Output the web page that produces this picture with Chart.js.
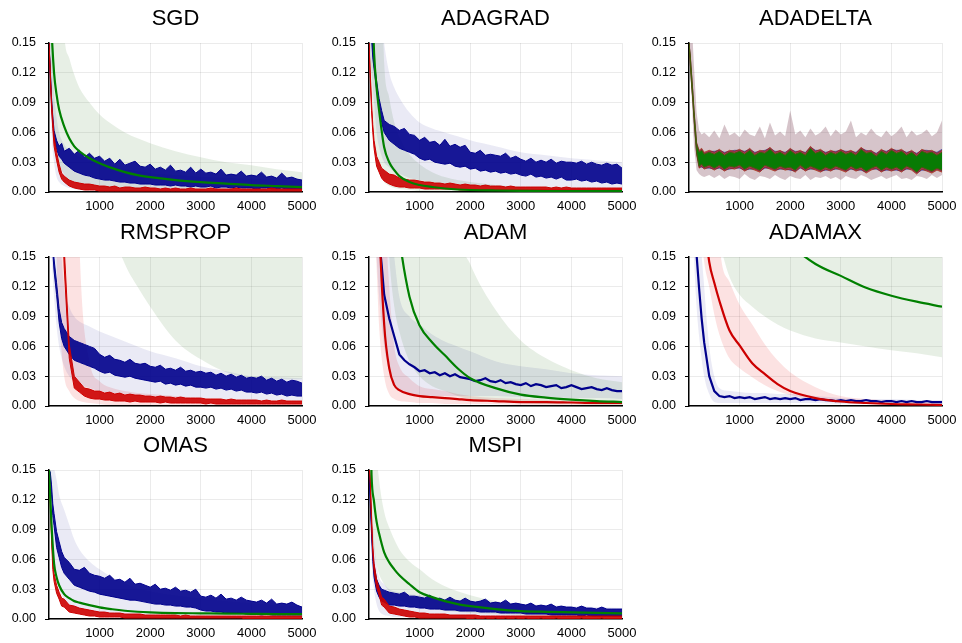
<!DOCTYPE html>
<html>
<head>
<meta charset="utf-8">
<script src="https://cdn.jsdelivr.net/npm/chart.js@4"></script>
<style>
  html, body { margin: 0; padding: 0; background: #fff; }
  #wrap { position: relative; width: 962px; height: 643px; overflow: hidden; }
  .panel { position: absolute; width: 320px; height: 213px; }
</style>
</head>
<body>
<div id="wrap"></div>
<script>
// ---- data (values in thousandths, converted to loss values when building datasets) ----
const TITLES = ['SGD', 'ADAGRAD', 'ADADELTA', 'RMSPROP', 'ADAM', 'ADAMAX', 'OMAS', 'MSPI'];
const X_TICKS = [1000, 2000, 3000, 4000, 5000];
const X_LABELS = ['1000', '2000', '3000', '4000', '5000'];
const Y_TICKS = [0, 0.03, 0.06, 0.09, 0.12, 0.15];
const Y_LABELS = ['0.00', '0.03', '0.06', '0.09', '0.12', '0.15'];

// iteration grid for noisy traces (min / max envelope of the noise)
const XN = [0,25,50,75,100,150,200,250,300,400,
  500,600,700,800,900,
  1000,1100,1200,1300,1400,1500,1600,1700,1800,1900,
  2000,2100,2200,2300,2400,2500,2600,2700,2800,2900,
  3000,3100,3200,3300,3400,3500,3600,3700,3800,3900,
  4000,4100,4200,4300,4400,4500,4600,4700,4800,4900,
  5000];
// iteration grid for smooth curves and shaded bands
const XS = [0,50,100,150,200,300,400,500,600,800,1000,1250,1500,1750,2000,2500,3000,3500,4000,4500,5000];

// SGD
const sgdBlueHi = [150,124,95,76,62,52,46,49,41,44, 38,42,35,39,34, 36,31,34,28,33,27,29,31,26,25, 28,23,25,22,27,21,22,20,25,19, 23,19,20,18,23,17,18,17,21,16, 17,16,20,15,16,14,19,14,15,13, 12];
const sgdBlueLo = [150,118,88,68,54,43,36,33,29,25, 21,19,17,16,14, 13,12,12,11,10,10,9,9,8,8, 8,7,7,7,6,7,6,6,5,6, 5,5,6,4,5,5,4,5,4,4, 4,3,4,4,3,3,4,3,3,3, 3];
const sgdRedHi = [150,122,92,74,56,40,28,19,16,12, 10,9,8,8,7, 6,6,5,6,4,5,5,4,4,5, 4,4,3,4,3,4,3,3,4,3, 3,3,4,3,3,3,3,4,3,3, 3,3,3,3,4,3,3,3,3,3, 3];
const sgdRedLo = [150,116,84,64,46,32,20,13,10,6, 4,3,2,2,2, 1,1,1,1,1,1,1,1,1,1, 1,1,1,1,1,1,1,1,1,1, 1,1,1,1,1,1,1,1,1,1, 1,1,1,1,1,1,1,1,1,1, 1];
const sgdGreen = [250,165,120,98,83,66,54,46,41,34,29,24,20,17,15,12,10,8.5,7,6,5];
const sgdGreenLo = [150,100,60,40,28,18,12,9,7,5,4,3,3,2,2,2,1,1,1,1,1];
const sgdGreenHi = [300,300,300,300,300,160,135,118,105,90,78,68,60,54,49,41,35,30,27,23,20];
const sgdBlueBandLo = [150,60,30,15,10,6,4,3,2,2,1,1,1,1,1,1,1,1,1,1,1];
const sgdBlueBandHi = [150,150,100,75,60,48,42,38,35,31,28,25,23,21,19,17,15,14,13,12,11];

// ADAGRAD
const adagradBlueHi = [220,195,165,145,132,112,94,82,72,68, 66,62,64,58,57, 52,55,50,51,47,53,46,48,45,47, 40,39,42,37,38,37,36,39,34,36, 33,31,34,30,32,30,33,29,31,30, 30,29,31,28,30,28,27,29,27,28, 24];
const adagradBlueLo = [220,185,155,135,124,104,84,70,60,52, 48,44,42,40,38, 34,32,33,30,29,28,29,26,25,26, 23,24,21,22,20,21,19,20,18,19, 17,16,18,15,16,14,15,13,15,12, 12,13,11,12,10,11,9,10,8,9, 8];
const adagradRedHi = [150,120,90,68,52,36,30,24,22,18, 17,14,13,12,12, 11,10,10,9,9,8,9,8,7,8, 7,7,6,7,6,6,6,5,6,5, 5,5,5,5,5,5,4,5,4,5, 4,4,4,4,4,4,4,4,4,4, 4];
const adagradRedLo = [150,114,82,60,44,26,20,14,11,8, 6,5,5,4,4, 4,3,3,3,3,3,3,3,2,2, 2,2,2,2,2,2,2,2,2,2, 2,2,2,2,2,2,2,2,2,2, 2,2,2,2,2,2,2,2,2,2, 2];
const adagradGreen = [300,210,140,105,82,45,30,22,16,10,7,5,3.5,2.5,2,1.5,1.2,1,1,1,1];
const adagradGreenLo = [150,100,60,35,20,10,6,4,3,2,1,1,1,1,1,1,1,1,1,1,1];
const adagradGreenHi = [300,300,300,300,300,130,95,70,55,38,28,20,15,12,10,7,5,4,4,3,3];
const adagradBlueBandLo = [150,120,90,60,45,30,25,20,18,14,12,10,8,7,6,5,4,4,3,3,3];
const adagradBlueBandHi = [300,300,300,300,200,150,120,105,95,80,70,64,60,56,52,46,40,37,34,32,30];

// ADADELTA
const adadeltaGreenHi = [150,136,118,100,80,48,40,42,38,40, 38,41,37,40,39, 41,38,42,37,40,39,43,38,40,37, 42,38,40,37,44,39,41,37,40,38, 41,38,40,37,43,39,40,36,41,38, 42,39,41,37,40,36,41,39,40,37, 40];
const adadeltaGreenLo = [150,130,110,94,74,40,26,28,25,27, 24,27,23,26,25, 27,23,26,24,22,27,25,23,26,24, 25,22,27,23,26,24,22,25,23,26, 24,22,26,23,25,21,24,26,22,25, 23,25,22,26,24,20,25,23,21,24, 22];
const adadeltaRedHi = [150,138,120,102,82,50,42,44,40,42, 40,43,39,42,41, 43,40,44,39,42,41,45,40,42,39, 44,40,42,39,46,41,43,39,42,40, 43,40,42,39,45,41,42,38,43,40, 44,41,43,39,42,38,43,41,42,39, 42];
const adadeltaRedLo = [150,128,108,92,72,38,24,26,23,25, 22,25,21,24,23, 25,21,24,22,20,25,23,21,24,22, 23,20,25,21,24,22,20,23,21,24, 22,20,24,21,23,19,22,24,20,23, 21,23,20,24,22,18,23,21,19,22, 20];
const adadeltaBlueHi = [150,137,119,101,81,49,41,43,39,41, 41,42,40,41,42, 42,41,43,40,41,42,44,41,41,40, 43,41,41,40,45,42,42,40,41,41, 42,41,41,40,44,42,41,39,42,41, 43,42,42,40,41,39,42,42,41,40, 43];
const adadeltaBlueLo = [150,129,109,93,73,39,25,25,24,24, 23,24,22,23,24, 24,22,23,23,21,24,24,22,23,23, 22,21,24,22,23,23,21,22,22,23, 23,21,23,22,22,20,23,23,21,22, 22,22,21,23,23,19,22,22,20,23, 21];
const adadeltaBandLo = [150,130,100,70,45,22,18,16,15,17, 14,17,13,16,15, 13,18,14,12,16,15,13,17,14,12, 16,14,13,17,12,15,14,16,13,15, 12,16,14,13,17,15,12,14,16,13, 15,17,13,14,12,16,15,13,17,14, 17];
const adadeltaBandHi = [200,200,180,150,125,80,62,58,60,55, 62,54,68,57,60, 55,63,58,56,66,54,70,57,61,56, 82,58,62,55,64,57,60,66,56,63, 58,61,72,55,60,57,64,58,55,62, 56,60,66,55,62,57,59,63,56,60, 72];

// RMSPROP
const rmspropBlueHi = [300,245,195,165,148,124,98,84,78,70, 66,64,62,60,58, 52,49,51,47,46,44,47,43,42,43, 40,39,41,37,38,36,39,35,36,34, 35,33,34,31,33,30,32,29,31,28, 29,28,30,26,28,25,27,24,26,25, 23];
const rmspropBlueLo = [300,235,185,155,136,112,84,68,60,52, 46,44,42,40,38, 35,33,34,31,30,29,30,28,27,26, 25,24,25,22,23,21,22,20,21,19, 19,18,19,17,18,16,17,15,16,14, 14,13,14,12,13,11,12,10,11,10, 10];
const rmspropRedHi = [400,400,400,400,400,390,310,230,160,62, 30,24,18,17,15, 15,13,14,12,13,11,12,11,11,10, 10,9,10,9,9,8,9,8,8,8, 8,7,7,7,7,6,7,6,6,6, 6,6,5,6,5,5,6,5,5,5, 5];
const rmspropRedLo = [400,400,400,400,400,370,290,210,140,48, 18,14,10,8,7, 7,6,6,5,5,5,4,5,4,4, 4,4,3,4,3,3,3,3,3,3, 3,2,3,2,2,2,2,2,2,2, 2,2,2,2,2,2,2,2,2,2, 2];
const rmspropRedBandLo = [400,400,300,150,90,30,15,8,5,3,2,1,1,1,1,1,1,1,1,1,1];
const rmspropRedBandHi = [400,400,400,400,400,400,400,400,165,45,25,18,15,13,12,10,8,7,6,6,5];
const rmspropBlueBandLo = [200,150,110,80,60,40,30,25,22,18,15,13,12,11,10,9,8,7,6,6,5];
const rmspropBlueBandHi = [400,400,400,300,200,120,100,90,85,80,75,70,65,60,55,48,40,35,30,29,28];
const rmspropGreenBandLo = [400,400,400,400,400,400,400,400,400,400,260,180,143,120,100,66,47,34,28,27,27];
const rmspropGreenBandHi = [400,400,400,400,400,400,400,400,400,400,400,400,400,400,400,400,400,400,400,400,400];

// ADAM
const adamRed = [600,500,400,300,190,82,38,21,16,12,10,9,8,7,6,5,4,4,3.5,3,3];
const adamRedBandLo = [300,260,200,140,80,30,12,7,5,4,3,3,2,2,2,2,1,1,1,1,1];
const adamRedBandHi = [600,600,600,600,400,220,120,60,40,28,20,17,15,12,10,8,7,6,5,5,4];
const adamBlue = [600,500,400,320,270,210,168,142,112,88, 70,52,46,42,39, 35,36,33,34,31,33,30,32,29,28, 27,25,26,28,25,24,26,23,24,22, 21,23,20,22,21,19,20,21,18,19, 21,19,17,18,19,17,16,18,16,15, 15];
const adamBlueBandLo = [300,250,200,150,110,60,35,22,17,13,11,10,10,10,10,10,9,9,8,8,7];
const adamBlueBandHi = [600,600,600,600,500,300,200,150,110,90,82,72,65,60,55,45,40,37,33,31,30];
const adamGreen = [900,850,800,700,600,420,300,220,170,110,81,64,51,38,28,18,11.5,8.5,6.5,5,4];
const adamGreenBandLo = [900,850,800,700,500,250,150,100,75,45,30,20,15,10,7,4,3,2,2,1,1];
const adamGreenBandHi = [900,900,900,900,900,900,900,900,900,900,900,900,900,220,143,97,66,48,36,28,24];

// ADAMAX
const adamaxBlue = [400,350,300,250,200,152,118,88,64,30, 15,10,9,10,8, 9,8,9,7,8,9,7,8,7,8, 7,8,6,7,7,6,7,6,6,5, 6,5,6,5,5,6,5,5,4,5, 5,4,5,4,5,4,4,5,4,4, 4];
const adamaxBlueBandLo = [300,250,150,100,70,30,12,4,3,3,3,3,3,3,3,3,2,2,2,2,2];
const adamaxBlueBandHi = [400,400,400,300,200,120,60,30,18,15,14,13,13,12,12,10,8,7,7,6,6];
const adamaxRed = [400,380,350,300,250,190,145,124,106,76,61,43,32,22,15,8,4.5,3,2,1.5,1];
const adamaxRedBandLo = [400,350,300,250,200,145,120,92,72,48,38,29,21,15,11,6,3,2,1,1,0];
const adamaxRedBandHi = [400,400,400,400,400,400,400,300,165,125,102,82,62,46,34,19,10,7,5,4,3];
const adamaxGreen = [400,390,380,370,360,340,320,300,285,260,240,220,200,180,163,143,131,119,111,105,100];
const adamaxGreenBandLo = [400,380,350,320,290,250,215,185,165,130,112,100,90,82,76,68,64,60,56,53,49];
const adamaxGreenBandHi = [400,400,400,400,400,400,400,400,400,400,400,400,400,400,400,400,400,400,400,400,400];

// OMAS
const omasBlueHi = [150,148,135,116,106,88,78,68,62,57, 50,49,52,46,44, 43,41,44,39,40,37,41,35,36,34, 32,35,30,31,29,32,28,29,27,30, 23,22,24,21,25,20,21,19,22,19, 18,17,19,16,20,15,16,15,17,14, 12];
const omasBlueLo = [150,142,125,104,94,72,62,52,46,40, 34,32,30,28,27, 25,24,23,22,21,20,19,19,18,17, 16,15,15,14,14,13,13,12,12,11, 9,8,8,7,7,6,6,6,6,5, 5,5,4,5,4,4,4,4,4,4, 4];
const omasRedHi = [150,122,88,58,46,34,27,21,20,14, 13,11,10,9,8, 7,7,6,6,6,5,5,5,5,4, 4,4,4,4,4,4,3,4,3,3, 3,3,3,3,3,3,3,3,3,3, 3,3,3,3,3,3,3,3,3,3, 3];
const omasRedLo = [150,116,80,50,38,26,20,13,12,7, 6,5,4,3,3, 2,2,2,2,2,1,1,1,1,1, 1,1,1,1,1,1,1,1,1,1, 1,1,1,1,1,1,1,1,1,0, 0,0,0,0,0,0,0,0,0,0, 0];
const omasGreen = [150,95,56,42,34,25,21,18,16.5,14,11.7,9.8,8.3,7.3,6.7,6,5.7,5.4,5.2,5,5];
const omasBlueBandLo = [150,100,60,40,30,20,15,12,10,8,6,5,5,4,4,4,3,3,3,3,3];
const omasBlueBandHi = [150,150,150,140,125,110,95,80,70,58,50,42,36,31,28,24,21,18,16,14,13];

// MSPI
const mspiBlueHi = [150,124,94,66,54,40,34,30,29,27, 26,25,27,23,23, 22,21,24,20,21,19,22,19,18,21, 18,17,18,20,16,17,16,19,15,16, 15,14,16,13,14,13,15,12,13,12, 12,11,13,11,11,10,12,10,10,10, 10];
const mspiBlueLo = [150,116,86,58,42,28,22,18,17,14, 14,13,13,12,12, 11,11,10,10,10,9,9,9,8,8, 8,8,7,7,7,7,6,6,6,6, 6,5,5,5,5,5,4,4,4,4, 4,4,3,4,3,3,3,3,3,3, 3];
const mspiRedHi = [160,142,104,74,56,40,31,22,20,13, 12,10,9,8,7, 6,6,5,5,5,5,4,4,4,4, 4,4,3,3,3,3,3,3,3,3, 3,3,3,3,3,3,3,3,3,3, 3,3,3,3,3,3,3,3,3,3, 3];
const mspiRedLo = [160,136,96,66,48,32,24,14,12,6, 5,4,3,2,2, 1,1,1,1,1,1,1,1,1,1, 0,1,0,1,0,1,0,1,0,1, 0,1,0,0,1,0,0,1,0,0, 0,0,1,0,0,0,1,0,0,0, 0];
const mspiGreen = [260,145,118,98,86,67,57,50,44,35,27,22,18,15,13,10,8,7.2,6.7,6.2,5.7];
const mspiGreenBandLo = [200,100,70,55,45,35,28,22,19,15,12,10,8,7,6,5,4,4,3,3,3];
const mspiGreenBandHi = [300,300,250,170,140,108,92,80,70,58,50,40,33,28,24,18,14,12,10,9,8];
const mspiBlueBandLo = [150,60,30,15,8,4,3,2,2,2,2,2,2,2,2,2,2,2,2,2,2];
const mspiBlueBandHi = [150,120,80,55,42,35,30,28,27,25,24,22,20,19,18,17,15,14,13,12,11];

/*
  ======================= style =======================
*/
const FONT = '"Liberation Sans", Arial, Helvetica, sans-serif';
const LINE = { red: 'rgb(204,0,0)', blue: 'rgb(0,0,140)', green: 'rgb(0,128,0)' };
const NOISE = { red: 'rgba(204,0,0,0.9)', blue: 'rgba(0,0,140,0.9)', green: 'rgba(0,128,0,0.88)' };
const FILL = {
  red: 'rgba(235,30,30,0.13)',
  blue: 'rgba(20,20,140,0.09)',
  green: 'rgba(40,110,20,0.11)',
  mauve: 'rgba(120,60,80,0.3)'
};
const LINE_ORDER = { green: 1, red: 2, blue: 3 };
const GRID = 'rgba(0,0,0,0.08)';

// bands: [xs, lo, hi, colour, smooth]
// noise: [xs, lo, hi, colour, fill override, edge override]
// lines: [xs, values, colour, smooth]
const panels = [
  { bands: [[XS, sgdGreenLo, sgdGreenHi, 'green', true], [XS, sgdBlueBandLo, sgdBlueBandHi, 'blue', true]],
    noise: [[XN, sgdBlueLo, sgdBlueHi, 'blue'], [XN, sgdRedLo, sgdRedHi, 'red']],
    lines: [[XS, sgdGreen, 'green', true]] },
  { bands: [[XS, adagradBlueBandLo, adagradBlueBandHi, 'blue', true], [XS, adagradGreenLo, adagradGreenHi, 'green', true]],
    noise: [[XN, adagradBlueLo, adagradBlueHi, 'blue'], [XN, adagradRedLo, adagradRedHi, 'red']],
    lines: [[XS, adagradGreen, 'green', true]] },
  { bands: [[XN, adadeltaBandLo, adadeltaBandHi, 'mauve', false]],
    noise: [[XN, adadeltaBlueLo, adadeltaBlueHi, 'blue', 'rgba(0,0,140,0.45)', 'rgba(0,0,140,0.45)'],
            [XN, adadeltaRedLo, adadeltaRedHi, 'red', 'rgba(204,0,0,0.5)', 'rgba(150,40,0,0.6)'],
            [XN, adadeltaGreenLo, adadeltaGreenHi, 'green', 'rgba(0,128,0,0.95)', 'rgb(70,90,10)']],
    lines: [] },
  { bands: [[XS, rmspropGreenBandLo, rmspropGreenBandHi, 'green', true], [XS, rmspropBlueBandLo, rmspropBlueBandHi, 'blue', true], [XS, rmspropRedBandLo, rmspropRedBandHi, 'red', true]],
    noise: [[XN, rmspropBlueLo, rmspropBlueHi, 'blue'], [XN, rmspropRedLo, rmspropRedHi, 'red']],
    lines: [] },
  { bands: [[XS, adamGreenBandLo, adamGreenBandHi, 'green', true], [XS, adamBlueBandLo, adamBlueBandHi, 'blue', true], [XS, adamRedBandLo, adamRedBandHi, 'red', true]],
    noise: [],
    lines: [[XN, adamBlue, 'blue'], [XS, adamRed, 'red', true], [XS, adamGreen, 'green', true]] },
  { bands: [[XS, adamaxGreenBandLo, adamaxGreenBandHi, 'green', true], [XS, adamaxBlueBandLo, adamaxBlueBandHi, 'blue', true], [XS, adamaxRedBandLo, adamaxRedBandHi, 'red', true]],
    noise: [],
    lines: [[XN, adamaxBlue, 'blue'], [XS, adamaxRed, 'red', true], [XS, adamaxGreen, 'green', true]] },
  { bands: [[XS, omasBlueBandLo, omasBlueBandHi, 'blue', true]],
    noise: [[XN, omasBlueLo, omasBlueHi, 'blue'], [XN, omasRedLo, omasRedHi, 'red']],
    lines: [[XS, omasGreen, 'green', true]] },
  { bands: [[XS, mspiGreenBandLo, mspiGreenBandHi, 'green', true], [XS, mspiBlueBandLo, mspiBlueBandHi, 'blue', true]],
    noise: [[XN, mspiBlueLo, mspiBlueHi, 'blue'], [XN, mspiRedLo, mspiRedHi, 'red']],
    lines: [[XS, mspiGreen, 'green', true]] }
];

const CELL_LEFT = [0, 320, 640];
const CELL_TOP = [0, 214, 427];

function pts(xs, ys) {
  return xs.map((x, i) => ({ x: x, y: ys[i] / 1000 }));
}

function buildDatasets(panel) {
  let ds = [];
  panel.bands.forEach(([xs, lo, hi, col, smooth], k) => {
    let common = {
      borderWidth: 0, borderColor: 'transparent', pointRadius: 0,
      cubicInterpolationMode: smooth ? 'monotone' : 'default', tension: 0,
      order: 10 + k
    };
    ds.push(Object.assign({ data: pts(xs, lo), fill: false }, common));
    ds.push(Object.assign({ data: pts(xs, hi), fill: '-1', backgroundColor: FILL[col] }, common));
  });
  panel.noise.forEach(([xs, lo, hi, col, fillCol, edgeCol]) => {
    let common = {
      borderWidth: 1, borderColor: edgeCol || LINE[col], pointRadius: 0, tension: 0,
      order: LINE_ORDER[col]
    };
    ds.push(Object.assign({ data: pts(xs, lo), fill: false }, common));
    ds.push(Object.assign({ data: pts(xs, hi), fill: '-1', backgroundColor: fillCol || NOISE[col] }, common));
  });
  panel.lines.forEach(([xs, ys, col, smooth]) => {
    ds.push({
      data: pts(xs, ys),
      borderColor: LINE[col],
      borderWidth: 2.2,
      pointRadius: 0,
      fill: false,
      tension: 0,
      cubicInterpolationMode: smooth ? 'monotone' : 'default',
      order: LINE_ORDER[col]
    });
  });
  return ds;
}

let Ewrap = document.querySelector('#wrap');

panels.forEach((panel, i) => {
  let Ediv = document.createElement('div');
  Ediv.className = 'panel';
  Ediv.style.left = CELL_LEFT[i % 3] + 'px';
  Ediv.style.top = CELL_TOP[Math.floor(i / 3)] + 'px';
  let Ecanvas = document.createElement('canvas');
  Ecanvas.width = 320;
  Ecanvas.height = 213;
  Ediv.appendChild(Ecanvas);
  Ewrap.appendChild(Ediv);

  new Chart(Ecanvas.getContext('2d'), {
    type: 'line',
    data: { datasets: buildDatasets(panel) },
    options: {
      responsive: false,
      animation: false,
      layout: { padding: { left: 0, right: 18, top: 6, bottom: 0 } },
      plugins: {
        legend: { display: false },
        tooltip: { enabled: false },
        title: {
          display: true,
          fullSize: false,
          text: TITLES[i],
          color: '#000',
          font: { family: FONT, size: 22, weight: 'normal', lineHeight: 1.2 },
          padding: { top: 0, bottom: 10.6 }
        }
      },
      scales: {
        x: {
          type: 'linear',
          min: 0,
          max: 5000,
          afterBuildTicks: s => { s.ticks = X_TICKS.map(v => ({ value: v })); },
          afterFit: s => { s.height = 21; s.paddingLeft = 0; s.paddingRight = 0; },
          grid: { color: GRID, drawTicks: false },
          border: { color: '#000', width: 1.5 },
          ticks: {
            color: '#000',
            font: { family: FONT, size: 13 },
            padding: 7,
            maxRotation: 0,
            autoSkip: false,
            callback: (v, idx) => X_LABELS[idx]
          }
        },
        y: {
          type: 'linear',
          min: 0,
          max: 0.15,
          afterBuildTicks: s => { s.ticks = Y_TICKS.map(v => ({ value: v })); },
          afterFit: s => { s.width = 49; },
          grid: { color: GRID, tickColor: '#000', tickLength: 4 },
          border: { color: '#000', width: 1.5 },
          ticks: {
            color: '#000',
            font: { family: FONT, size: 12.5 },
            padding: 9,
            autoSkip: false,
            callback: (v, idx) => Y_LABELS[idx]
          }
        }
      }
    }
  });
});
</script>
</body>
</html>
